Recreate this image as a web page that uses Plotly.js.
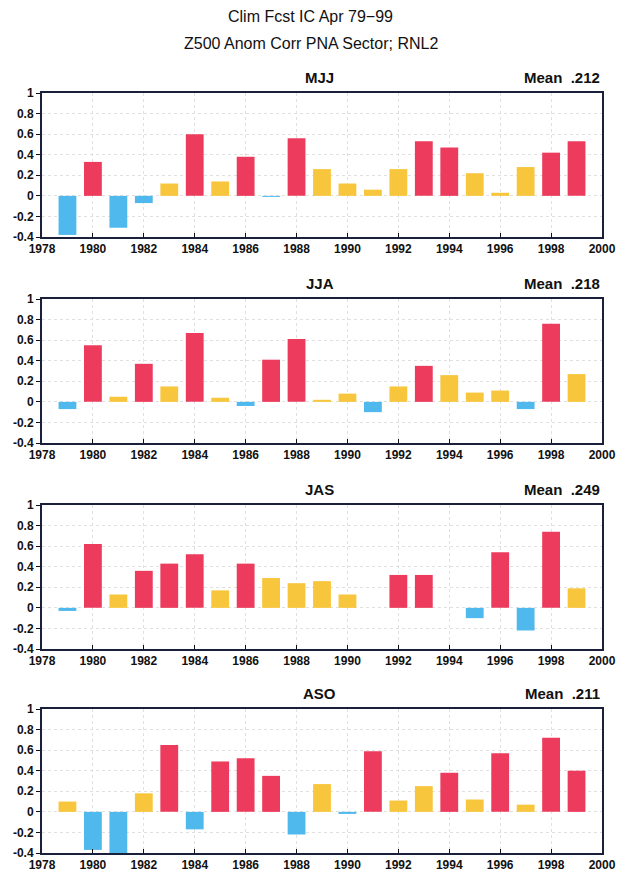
<!DOCTYPE html>
<html>
<head>
<meta charset="utf-8">
<script src="https://cdn.plot.ly/plotly-3.0.1.min.js"></script>
<style>
html,body{margin:0;padding:0;background:#fff;}
#chart{width:619px;height:873px;}
</style>
</head>
<body>
<div id="chart"></div>
<script>
const years = [1979,1980,1981,1982,1983,1984,1985,1986,1987,1988,1989,1990,1991,1992,1993,1994,1995,1996,1997,1998,1999];

const seasons = ["MJJ","JJA","JAS","ASO"];
const means = [".212",".218",".249",".211"];

const mjj = [-0.38,0.33,-0.31,-0.07,0.12,0.60,0.14,0.38,-0.01,0.56,0.26,0.12,0.06,0.26,0.53,0.47,0.22,0.03,0.28,0.42,0.53];
const jja = [-0.07,0.55,0.05,0.37,0.15,0.67,0.04,-0.04,0.41,0.61,0.02,0.08,-0.10,0.15,0.35,0.26,0.09,0.11,-0.07,0.76,0.27];
const jas = [-0.03,0.62,0.13,0.36,0.43,0.52,0.17,0.43,0.29,0.24,0.26,0.13,0.00,0.32,0.32,0.00,-0.10,0.54,-0.22,0.74,0.19];
const aso = [0.10,-0.37,-0.40,0.18,0.65,-0.17,0.49,0.52,0.35,-0.22,0.27,-0.02,0.59,0.11,0.25,0.38,0.12,0.57,0.07,0.72,0.40];

const yTickVals = [-0.4,-0.2,0,0.2,0.4,0.6,0.8,1];
const yTickText = ["-0.4","-0.2","0","0.2","0.4","0.6","0.8","1"];
const xTickVals = [1978,1980,1982,1984,1986,1988,1990,1992,1994,1996,1998,2000];

const series = [mjj, jja, jas, aso];

const RED = "#ec3b5c", YEL = "#f8c63c", BLU = "#4fb9ee";
function colorOf(v){ return v < 0 ? BLU : (v >= 0.3 ? RED : YEL); }

const H = 873, T = 93, B = 20;
const plotH = H - T - B;
const panelTops = [93, 299, 505, 709];
const panelH = 144;
function frac(y){ return (H - B - y) / plotH; }

const tickFont = {family: "Liberation Sans Narrow, Arial Narrow, Liberation Sans, Arial", size: 12, color: "#111", weight: "bold"};

const data = [];
const layout = {
  width: 619, height: 873,
  margin: {l: 42, r: 17, t: T, b: B},
  paper_bgcolor: "#fff", plot_bgcolor: "#fff",
  showlegend: false,
  annotations: [],
  font: {family: "Liberation Sans, Arial", color: "#111"}
};

series.forEach((vals, i) => {
  const n = i + 1;
  const xa = n === 1 ? "x" : "x" + n;
  const ya = n === 1 ? "y" : "y" + n;
  data.push({
    type: "bar", x: years, y: vals, xaxis: xa, yaxis: ya,
    width: 0.7,
    marker: {color: vals.map(colorOf), line: {width: 0}},
    hoverinfo: "x+y"
  });
  const dom = [frac(panelTops[i] + panelH), frac(panelTops[i])];
  layout["xaxis" + (n === 1 ? "" : n)] = {
    domain: [0, 1], anchor: ya, range: [1978, 2000],
    tickvals: xTickVals, ticktext: xTickVals.map(String),
    ticks: "inside", ticklen: 4, tickwidth: 1, tickcolor: "#111",
    showline: true, linecolor: "#1a1f3a", linewidth: 2, mirror: true,
    showgrid: true, gridcolor: "#e0e0e0", griddash: "dot", gridwidth: 1,
    zeroline: false, tickfont: tickFont
  };
  layout["yaxis" + (n === 1 ? "" : n)] = {
    domain: dom, anchor: xa, range: [-0.4, 1],
    tickvals: yTickVals, ticktext: yTickText,
    ticks: "outside", ticklen: 4, tickwidth: 1, tickcolor: "#111",
    showline: true, linecolor: "#1a1f3a", linewidth: 2, mirror: true,
    showgrid: true, gridcolor: "#e0e0e0", griddash: "dot", gridwidth: 1,
    zeroline: false, tickfont: tickFont
  };
  layout.annotations.push({
    text: seasons[i], xref: "paper", yref: "paper", x: 0.496, y: dom[1],
    xanchor: "center", yanchor: "bottom", yshift: 5, showarrow: false,
    font: {family: "Liberation Sans, Arial", size: 15, color: "#111", weight: "bold"}
  });
  layout.annotations.push({
    text: "Mean  " + means[i], xref: "paper", yref: "paper", x: 1, y: dom[1],
    xanchor: "right", yanchor: "bottom", yshift: 5, showarrow: false,
    font: {family: "Liberation Sans, Arial", size: 15, color: "#111", weight: "bold"}
  });
});

layout.annotations.push({
  text: "Clim Fcst IC Apr 79\u221299", xref: "paper", yref: "paper", x: 0.48, y: 1,
  xanchor: "center", yanchor: "middle", yshift: 77, showarrow: false,
  font: {family: "Liberation Sans, Arial", size: 16, color: "#111"}
});
layout.annotations.push({
  text: "Z500 Anom Corr PNA Sector; RNL2", xref: "paper", yref: "paper", x: 0.48, y: 1,
  xanchor: "center", yanchor: "middle", yshift: 50, showarrow: false,
  font: {family: "Liberation Sans, Arial", size: 16, color: "#111"}
});

Plotly.newPlot("chart", data, layout, {displayModeBar: false, staticPlot: true});
</script>
</body>
</html>
